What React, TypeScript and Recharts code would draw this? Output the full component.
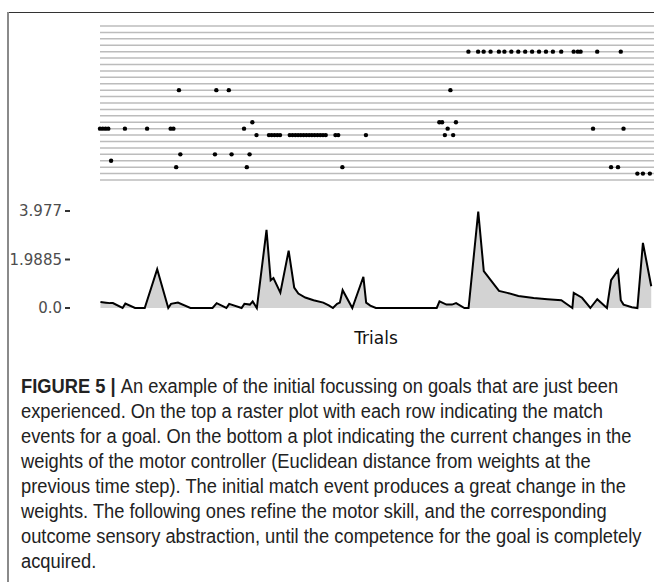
import React from 'react';
import { ScatterChart, Scatter, AreaChart, Area, XAxis, YAxis, ReferenceLine } from 'recharts';

// raster: one row per goal, trial index of each match event
const rasterRows = [0, 1, 2, 3, 4, 5, 6, 7, 8, 9, 10, 11, 12, 13, 14, 15, 16, 17, 18, 19, 20, 21, 22, 23, 24];
const goal4 = [266, 273, 277, 282, 288, 292, 297, 302, 307, 312, 317, 322, 327, 333, 342, 345, 347, 359, 376];
const goal10 = [57, 84, 93, 253];
const goal15 = [110, 245, 247, 257];
const goal16 = [0, 2, 4, 6, 18, 34, 51, 53, 104, 251, 356, 378];
const goal17 = [113, 122, 124, 126, 128, 130, 137, 139, 141, 143, 145, 147, 149, 151, 153, 155, 157, 159, 161, 163, 170, 172, 192, 249, 255];
const goal20 = [58, 83, 95, 108];
const goal21 = [8];
const goal22 = [55, 106, 175, 369, 374];
const goal23 = [388, 392, 397];

// weight change (euclidean distance) per trial
const trials = [0, 4, 7, 9, 16, 18, 25, 32, 41, 49, 51, 56, 65, 81, 84, 91, 93, 102, 104, 108, 110, 113, 120, 123, 125, 130, 136, 140, 143, 148, 154, 161, 165, 168, 171, 173, 175, 182, 190, 192, 195, 199, 243, 245, 250, 254, 257, 263, 266, 273, 277, 282, 288, 294, 302, 313, 323, 333, 341, 342, 348, 354, 359, 366, 369, 374, 376, 378, 384, 388, 392, 398];
const weightChange = [0.25, 0.22, 0.2, 0.2, 0, 0.18, 0, 0, 1.59, 0, 0.17, 0.22, 0, 0, 0.2, 0, 0.17, 0, 0.17, 0.14, 0.27, 0, 3.2, 1.14, 1.23, 0.63, 2.35, 0.84, 0.59, 0.43, 0.32, 0.22, 0.11, 0, 0.17, 0.22, 0.73, 0, 1.28, 0.22, 0.1, 0, 0, 0.27, 0.14, 0.14, 0.2, 0, 0, 3.95, 1.51, 1.14, 0.7, 0.62, 0.49, 0.41, 0.36, 0.32, 0, 0.62, 0.42, 0, 0.36, 0, 1.14, 1.55, 0.32, 0.14, 0.03, 0, 2.67, 0.89];
const yTicks = [0, 1.9885, 3.977];

const goals: [number, number[]][] = [
  [4, goal4], [10, goal10], [15, goal15], [16, goal16], [17, goal17],
  [20, goal20], [21, goal21], [22, goal22], [23, goal23],
];
const rasterData = goals.flatMap(([row, ts]) => ts.map((t) => ({ t, row })));
const weightData = trials.map((t, i) => ({ t, w: weightChange[i] }));

const captionLines = [
  'An example of the initial focussing on goals that are just been',
  'experienced. On the top a raster plot with each row indicating the match',
  'events for a goal. On the bottom a plot indicating the current changes in the',
  'weights of the motor controller (Euclidean distance from weights at the',
  'previous time step). The initial match event produces a great change in the',
  'weights. The following ones refine the motor skill, and the corresponding',
  'outcome sensory abstraction, until the competence for the goal is completely',
  'acquired.',
];

const Dot = (props: any) => <circle cx={props.cx} cy={props.cy} r={2.2} fill="#000" />;

export default function App() {
  return (
    <div style={{ position: 'absolute', left: 0, top: 0, width: 654, height: 582, overflow: 'hidden', background: '#fff' }}>
      <div style={{ position: 'absolute', left: 7, top: 12, width: 647, height: 1, background: '#333' }} />
      <div style={{ position: 'absolute', left: 7, top: 12, width: 1.5, height: 570, background: '#8a8a8a' }} />

      <div style={{ position: 'absolute', left: 0, top: 0 }}>
        <ScatterChart width={654} height={200} margin={{ top: 26, right: 0, bottom: 20, left: 100 }}>
          <XAxis type="number" dataKey="t" domain={[0, 400]} hide />
          <YAxis type="number" dataKey="row" domain={[0, 24]} reversed hide />
          {rasterRows.map((r) => (
            <ReferenceLine key={r} y={r} stroke="#bcbcbc" strokeWidth={1.5} />
          ))}
          <Scatter data={rasterData} shape={Dot} isAnimationActive={false} />
        </ScatterChart>
      </div>

      <div style={{ position: 'absolute', left: 0, top: 190 }}>
        <AreaChart width={654} height={130} data={weightData} margin={{ top: 21, right: 0, bottom: 12, left: 0 }}>
          <XAxis type="number" dataKey="t" domain={[-22, 400]} allowDataOverflow hide />
          <YAxis
            width={70}
            domain={[0, 3.977]}
            ticks={yTicks}
            interval={0}
            axisLine={false}
            tickSize={5}
            tickMargin={3}
            tickLine={{ stroke: '#333', strokeWidth: 2 }}
            tickFormatter={(v: number) => (v === 0 ? '0.0' : String(v))}
            tick={{ fill: '#4d4d4d', fontSize: 15, fontFamily: 'DejaVu Sans' }}
          />
          <Area
            type="linear"
            dataKey="w"
            stroke="#000"
            strokeWidth={2}
            fill="#d3d3d3"
            fillOpacity={1}
            isAnimationActive={false}
          />
        </AreaChart>
      </div>

      <div style={{ position: 'absolute', left: 326, top: 328, width: 100, textAlign: 'center', fontFamily: 'DejaVu Sans', fontSize: 17, lineHeight: '20px', color: '#111' }}>
        Trials
      </div>

      <div
        style={{
          position: 'absolute', left: 21, top: 374, fontFamily: 'Liberation Sans', fontSize: 20,
          lineHeight: '25px', color: '#222', whiteSpace: 'nowrap', transform: 'scaleX(0.915)', transformOrigin: 'left top',
        }}
      >
        {captionLines.map((line, i) => (
          <div key={i}>
            {i === 0 && <b>FIGURE 5 | </b>}
            {line}
          </div>
        ))}
      </div>
    </div>
  );
}
